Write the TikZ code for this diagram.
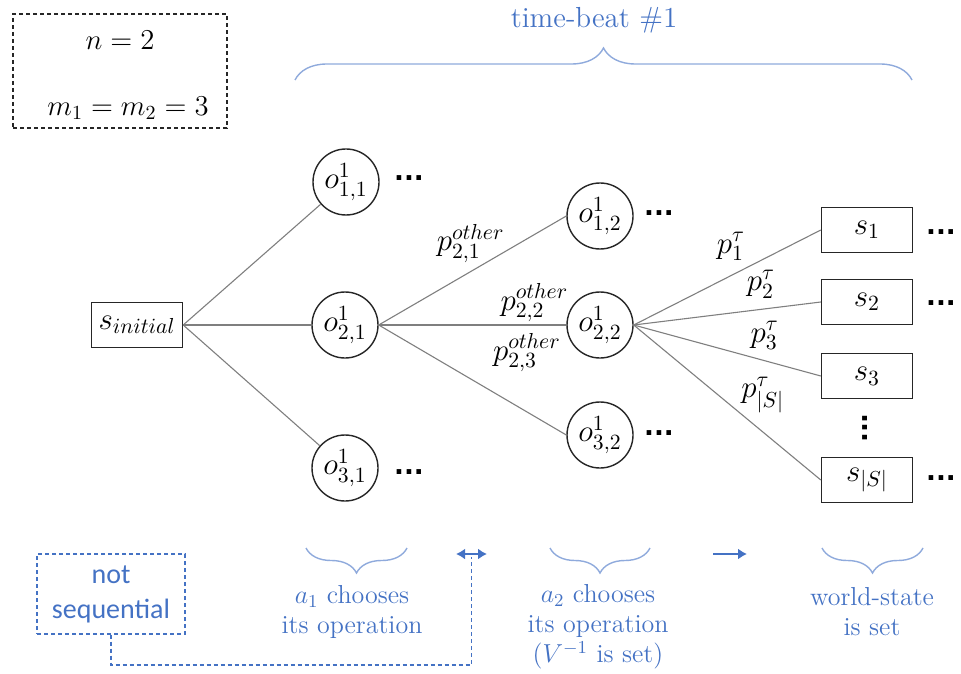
\documentclass[tikz,border=0pt]{standalone}
\usepackage{fix-cm}
\usepackage{amsmath}
\usepackage{fontspec}
\newfontfamily\calibri{Carlito}
\newfontfamily\dotfont{DejaVu Sans}
\usepackage{tikz}
\usetikzlibrary{arrows.meta,positioning,calc,decorations.pathreplacing}
\definecolor{NoteBlue}{HTML}{4472C4}
\definecolor{BraceBlue}{HTML}{8FAADC}
\definecolor{EdgeGray}{HTML}{7F7F7F}
\definecolor{InkGray}{HTML}{262626}
\newcommand{\mathsz}{\fontsize{15.5}{18}\selectfont}
\newcommand{\notesz}{\fontsize{13}{15}\selectfont}
\tikzset{
  opnode/.style={draw=InkGray,circle,minimum size=33pt,inner sep=0pt,line width=0.7pt,font=\mathsz},
  statebox/.style={draw=InkGray,rectangle,minimum width=45.5pt,minimum height=22.5pt,inner sep=1pt,line width=0.7pt,font=\mathsz},
  link/.style={draw=EdgeGray,line width=0.55pt},
  prob/.style={font=\mathsz,inner sep=0pt},
  param/.style={font=\fontsize{14.4}{17}\selectfont,inner sep=0pt},
  more/.style={font=\dotfont\bfseries\fontsize{13}{16}\selectfont,inner sep=0pt},
  brc/.style={draw=BraceBlue,line width=0.7pt,decorate,decoration={brace,amplitude=#1}},
  note/.style={font=\notesz,text=NoteBlue,align=center,inner sep=0pt},
  order/.style={draw=NoteBlue,line width=1.3pt},
  tip/.tip={Latex[length=4.5pt,width=5.5pt]}
}
\begin{document}
\begin{tikzpicture}[x=0.5pt,y=-0.5pt]
  \useasboundingbox (0,0) rectangle (961,673);

  % parameters
  \node[draw=InkGray,dash pattern=on 2pt off 1.5pt,line width=0.6pt,
        minimum width=107pt,minimum height=57pt] (params) at (120,71) {};
  \node[param] (nval) at (120,40) {$n=2$};
  \node[param] (mval) at (128,108) {$m_1=m_2=3$};

  % time-beat
  \node[note,font=\fontsize{14.5}{17}\selectfont] (beat) at (594,20) {time-beat \#1};
  \draw[brc=16pt] (295,80) -- (912,80);

  % tree
  \node[statebox] (sini) at (137,325) {$s_{initial}$};
  \node[opnode] (o11) at (346,182) {$o^1_{1,1}$};
  \node[opnode] (o21) at (345,325) {$o^1_{2,1}$};
  \node[opnode] (o31) at (345,468) {$o^1_{3,1}$};
  \node[opnode] (o12) at (600,216) {$o^1_{1,2}$};
  \node[opnode] (o22) at (600,325) {$o^1_{2,2}$};
  \node[opnode] (o32) at (600,435) {$o^1_{3,2}$};
  \node[statebox] (s1) at (867,230) {$s_1$};
  \node[statebox] (s2) at (867,302) {$s_2$};
  \node[statebox] (s3) at (867,376) {$s_3$};
  \node[statebox] (sS) at (867,480) {$s_{|S|}$};

  \node[more] (m11) at (409,178) {...};
  \node[more] (m31) at (409,472) {...};
  \node[more] (m12) at (659,213) {...};
  \node[more] (m32) at (659,433) {...};
  \node[more] (ms1) at (941,232) {...};
  \node[more] (ms2) at (941,303) {...};
  \node[more] (msS) at (941,478) {...};
  \node[more,rotate=90] (vdots) at (865,428) {...};

  \draw[link] (sini.east) -- (o11);
  \draw[link] (sini.east) -- (o21);
  \draw[link] (sini.east) -- (o31);
  \draw[link] (o21.east) -- node[prob,pos=.49,yshift=14pt] {$p^{other}_{2,1}$} (o12.west);
  \draw[link] (o21.east) -- node[prob,pos=.83,yshift=11pt] {$p^{other}_{2,2}$} (o22.west);
  \draw[link] (o21.east) -- node[prob,pos=.79,yshift=29.5pt] {$p^{other}_{2,3}$} (o32.west);
  \draw[link] (o22.east) -- node[prob,pos=.52,yshift=14.5pt] {$p^{\tau}_{1}$} (s1.west);
  \draw[link] (o22.east) -- node[prob,pos=.68,yshift=12.5pt] {$p^{\tau}_{2}$} (s2.west);
  \draw[link] (o22.east) -- node[prob,pos=.70,yshift=12.5pt] {$p^{\tau}_{3}$} (s3.west);
  \draw[link] (o22.east) -- node[prob,pos=.69,yshift=18.5pt] {$p^{\tau}_{|S|}$} (sS.west);

  % phases
  \draw[brc=12.5pt] (407,548) -- (306,548);
  \draw[brc=12.5pt] (650,548) -- (550,548);
  \draw[brc=12.5pt] (923,548) -- (822,548);
  \node[note] (act1) at (352,612) {$a_1$ chooses\\its operation};
  \node[note] (act2) at (598,627) {$a_2$ chooses\\its operation\\($V^{-1}$ is set)};
  \node[note] (world) at (872,612) {world-state\\is set};

  \coordinate (da1) at (456,554);
  \coordinate (da2) at (487,554);
  \coordinate (sa1) at (713,554);
  \coordinate (sa2) at (747,554);
  \draw[order,tip-tip] (da1) -- (da2);
  \draw[order,-tip] (sa1) -- (sa2);

  \node[draw=NoteBlue,dash pattern=on 2pt off 1.5pt,line width=0.6pt,text=NoteBlue,align=center,
        font=\calibri\fontsize{14}{17.5}\selectfont,minimum width=74pt,minimum height=40pt] (notseq) at (111,594) {not\\sequential};
  \coordinate (dam) at ($(da1)!.5!(da2)+(0,3)$);
  \coordinate (low) at (471.5,665);
  \draw[NoteBlue,dash pattern=on 2pt off 1.5pt,line width=0.6pt] (notseq.south) |- (low) -- (dam);
\end{tikzpicture}
\end{document}
